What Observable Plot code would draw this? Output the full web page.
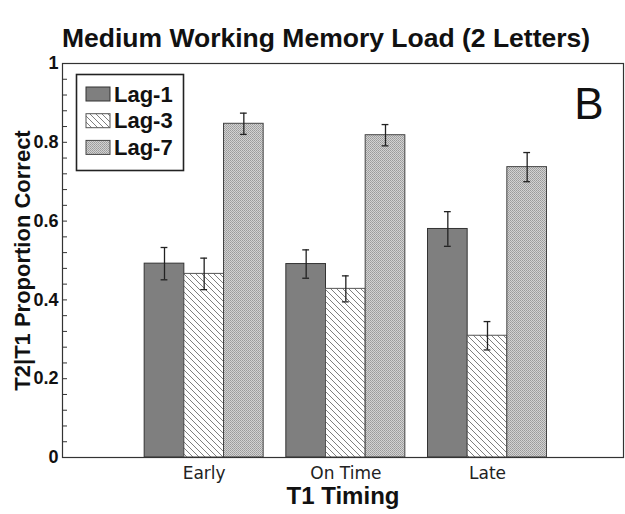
<!DOCTYPE html>
<html><head><meta charset="utf-8">
<script src="https://cdn.jsdelivr.net/npm/d3@7"></script>
<script src="https://cdn.jsdelivr.net/npm/@observablehq/plot@0.6"></script>
<style>
body{margin:0;background:#fff;font-family:"Liberation Sans",Arial,sans-serif;}
#wrap{position:relative;width:625px;height:514px;overflow:hidden;}
#title{position:absolute;left:0;top:0;width:625px;height:48px;}
#title span{position:absolute;left:62px;top:25px;font-size:26.5px;font-weight:bold;color:#111;white-space:nowrap;line-height:1;}
#chart{position:absolute;left:0;top:48px;}
#legend{position:absolute;left:0;top:0;}
</style></head><body>
<div id="wrap">
<div id="title"><span>Medium Working Memory Load (2 Letters)</span></div>
<div id="chart"></div>
<svg id="legend" width="625" height="514"></svg>
</div>
<script>
const groups = ["Early", "On Time", "Late"];
const series = ["Lag-1", "Lag-3", "Lag-7"];
const lag1 = [0.492, 0.491, 0.580];
const lag1Err = [0.041, 0.036, 0.044];
const lag3 = [0.466, 0.428, 0.309];
const lag3Err = [0.040, 0.033, 0.036];
const lag7 = [0.847, 0.818, 0.737];
const lag7Err = [0.027, 0.027, 0.037];
const yTickLabels = [0, 0.2, 0.4, 0.6, 0.8, 1];
const panelLetter = "B";
const xTitle = "T1 Timing";
const yTitle = "T2|T1 Proportion Correct";

const values = [lag1, lag3, lag7];
const errs = [lag1Err, lag3Err, lag7Err];
const fills = ["#7f7f7f", "url(#hatch)", "url(#dots)"];
const strokes = ["#333", "#555", "#444"];
const barW = 0.28;

const rows = [];
series.forEach((s, j) => groups.forEach((g, i) => {
  const x = i + 1 + (j - 1) * barW;
  rows.push({series: s, group: g, j, x, x1: x - barW / 2, x2: x + barW / 2,
    value: values[j][i], lo: values[j][i] - errs[j][i], hi: values[j][i] + errs[j][i]});
}));

const leg = d3.select("#legend");
leg.append("defs").html(`
  <pattern id="hatch" patternUnits="userSpaceOnUse" width="6" height="6">
    <rect width="6" height="6" fill="#fff"/>
    <path d="M-1,-1L7,7M-1,5L1,7M5,-1L7,1" stroke="#707070" stroke-width="0.9"/>
  </pattern>
  <pattern id="dots" patternUnits="userSpaceOnUse" width="2" height="2">
    <rect width="2" height="2" fill="#d2d2d2"/>
    <rect x="0" y="0" width="1" height="1" fill="#9a9a9a"/>
    <rect x="1" y="1" width="1" height="1" fill="#a6a6a6"/>
  </pattern>`);

const minorTicks = d3.range(0, 1.0001, 0.04);

const marks = [];
series.forEach((s, j) => {
  marks.push(Plot.rectY(rows.filter(d => d.j === j), {
    x1: "x1", x2: "x2", y1: 0, y2: "value",
    fill: fills[j], stroke: strokes[j], strokeWidth: 1
  }));
});
marks.push(
  Plot.ruleX(rows, {x: "x", y1: "lo", y2: "hi", stroke: "#222", strokeWidth: 1.3}),
  Plot.ruleY(rows, {y: "hi", x1: d => d.x - 0.024, x2: d => d.x + 0.024, stroke: "#222", strokeWidth: 1.3}),
  Plot.ruleY(rows, {y: "lo", x1: d => d.x - 0.024, x2: d => d.x + 0.024, stroke: "#222", strokeWidth: 1.3}),
  Plot.frame({stroke: "#333", strokeWidth: 1.2}),
  Plot.axisY({ticks: minorTicks, tickSize: -5, text: null, stroke: "#333", label: null}),
  Plot.axisY({ticks: yTickLabels, tickSize: 0, tickPadding: 4, tickFormat: d => String(d),
    fontSize: 18, fontWeight: "bold", fill: "#111", label: null}),
  Plot.axisX({ticks: [1, 2, 3], tickFormat: d => groups[d - 1], tickSize: 0, tickPadding: 9,
    fontSize: 17, fontFamily: "DejaVu Sans", fill: "#222", label: null}),
  Plot.text([yTitle], {text: d => d, frameAnchor: "left", textAnchor: "middle", rotate: -90, dx: -40,
    fontSize: 22, fontWeight: "bold", fill: "#111"}),
  Plot.text([xTitle], {text: d => d, frameAnchor: "bottom", textAnchor: "middle", dy: 46,
    fontSize: 24, fontWeight: "bold", fill: "#111"}),
  Plot.text([panelLetter], {text: d => d, frameAnchor: "top-right", dx: -20, dy: 24,
    fontSize: 44, fill: "#111"})
);

const plot = Plot.plot({
  width: 625, height: 466,
  marginTop: 15, marginBottom: 57, marginLeft: 62, marginRight: 2,
  style: {fontFamily: "Liberation Sans, Arial, sans-serif", background: "transparent"},
  x: {type: "linear", domain: [0, 3.96], axis: null},
  y: {domain: [0, 1], axis: null},
  marks
});
document.getElementById("chart").append(plot);

const lg = leg.append("g");
lg.append("rect").attr("x", 76.5).attr("y", 74.5).attr("width", 107).attr("height", 96)
  .attr("fill", "#fff").attr("stroke", "#222").attr("stroke-width", 1.6);
series.forEach((s, j) => {
  const y = 87 + j * 26.7;
  lg.append("rect").attr("x", 86).attr("y", y).attr("width", 24).attr("height", 14)
    .attr("fill", fills[j]).attr("stroke", strokes[j]).attr("stroke-width", 1);
  lg.append("text").attr("x", 114).attr("y", y + 14.5).text(s)
    .attr("font-size", 22).attr("font-weight", "bold").attr("fill", "#111")
    .attr("font-family", "Liberation Sans, Arial, sans-serif");
});
</script>
</body></html>
